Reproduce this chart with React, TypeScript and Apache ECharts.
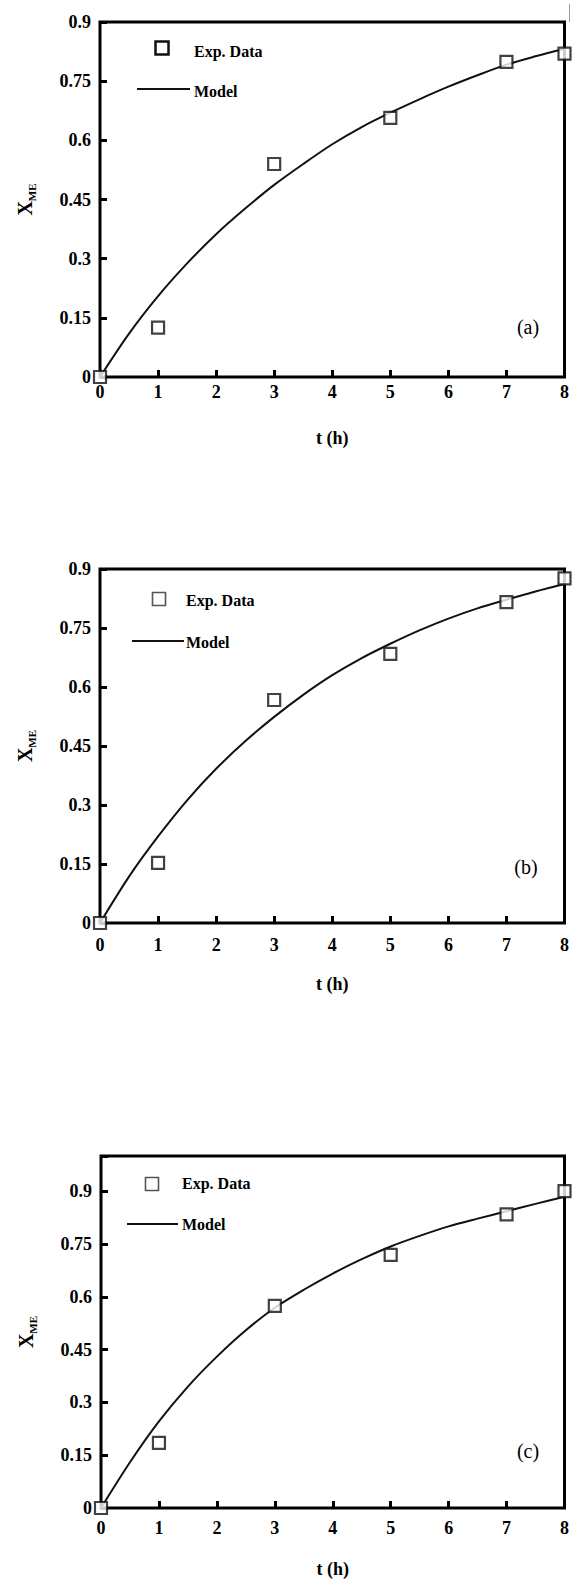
import React, { useEffect, useRef } from "react";
import * as echarts from "echarts";

const FONT = "Liberation Serif, serif";

// ---- data ----
const expTimes = [0, 1, 3, 5, 7, 8];
const expA = [0, 0.125, 0.54, 0.657, 0.799, 0.82];
const expB = [0, 0.153, 0.567, 0.684, 0.816, 0.876];
const expC = [0, 0.185, 0.574, 0.719, 0.834, 0.9];

const modelTimes = [0, 0.5, 1, 1.5, 2, 2.5, 3, 3.5, 4, 4.5, 5, 5.5, 6, 6.5, 7, 7.5, 8];
const modelA = [0, 0.11, 0.205, 0.288, 0.362, 0.427, 0.487, 0.54, 0.59, 0.633, 0.67, 0.704, 0.736, 0.765, 0.792, 0.813, 0.832];
const modelB = [0, 0.118, 0.22, 0.312, 0.392, 0.462, 0.524, 0.58, 0.63, 0.673, 0.71, 0.744, 0.774, 0.8, 0.822, 0.843, 0.862];
const modelC = [0, 0.13, 0.246, 0.345, 0.43, 0.505, 0.569, 0.62, 0.666, 0.707, 0.743, 0.773, 0.8, 0.822, 0.843, 0.864, 0.884];

const xTickLabels = ["0", "1", "2", "3", "4", "5", "6", "7", "8"];
const yTickLabels = ["0", "0.15", "0.3", "0.45", "0.6", "0.75", "0.9"];
const panelLabels = ["(a)", "(b)", "(c)"];
const yMaxes = [0.9, 0.9, 1.0];

const legendExp = "Exp. Data";
const legendModel = "Model";
const xName = "t (h)";

// ---- layout ----
const grids = [
  { left: 100, top: 22, width: 468, height: 355 },
  { left: 100, top: 569, width: 469, height: 354 },
  { left: 101, top: 1156, width: 469, height: 355 },
];
const xLabelMargins = [6, 13, 11];
const legendPos = [
  { sx: 162, sy: 48, tx: 194, ty: 51, lx1: 137, lx2: 190, ly: 89, my: 91, sqStroke: "#111", sqW: 2.5 },
  { sx: 159, sy: 599, tx: 186, ty: 600, lx1: 132, lx2: 184, ly: 641, my: 642, sqStroke: "#555", sqW: 1.6 },
  { sx: 152, sy: 1184, tx: 182, ty: 1183, lx1: 127, lx2: 178, ly: 1224, my: 1224, sqStroke: "#555", sqW: 1.6 },
];
const panelLabelPos = [
  { x: 528, y: 327 },
  { x: 526, y: 867 },
  { x: 528, y: 1451 },
];

const expSets = [expA, expB, expC];
const modelSets = [modelA, modelB, modelC];

function buildOption() {
  const grid: any[] = [];
  const xAxis: any[] = [];
  const yAxis: any[] = [];
  const series: any[] = [];
  const graphic: any[] = [];

  for (let i = 0; i < 3; i++) {
    const g = grids[i];
    grid.push({
      left: g.left,
      top: g.top,
      width: g.width,
      height: g.height,
      show: true,
      borderColor: "#000",
      borderWidth: 3,
      backgroundColor: "transparent",
    });
    xAxis.push({
      type: "value",
      gridIndex: i,
      min: 0,
      max: 8,
      interval: 1,
      name: xName,
      nameLocation: "middle",
      nameGap: 52,
      nameTextStyle: { fontFamily: FONT, fontWeight: "bold", fontSize: 18, color: "#000" },
      axisLine: { show: false },
      axisTick: { show: true, inside: true, length: 7, lineStyle: { color: "#000", width: 3 } },
      axisLabel: {
        fontFamily: FONT,
        fontWeight: "bold",
        fontSize: 18,
        color: "#000",
        margin: xLabelMargins[i],
        formatter: (v: number) => {
          const k = Math.round(v);
          return Math.abs(v - k) < 1e-6 && k >= 0 && k < xTickLabels.length ? xTickLabels[k] : "";
        },
      },
      splitLine: { show: false },
    });
    yAxis.push({
      type: "value",
      gridIndex: i,
      min: 0,
      max: yMaxes[i],
      interval: 0.15,
      name: "{b|X}{s|ME}",
      nameLocation: "middle",
      nameRotate: 90,
      nameGap: 65,
      nameTextStyle: {
        rich: {
          b: { fontFamily: FONT, fontWeight: "bold", fontSize: 20, color: "#000" },
          s: { fontFamily: FONT, fontWeight: "bold", fontSize: 11, color: "#000", verticalAlign: "bottom", padding: [0, 0, -2, 0] },
        },
      },
      axisLine: { show: false },
      axisTick: { show: true, inside: true, length: 7, lineStyle: { color: "#000", width: 3 } },
      axisLabel: {
        fontFamily: FONT,
        fontWeight: "bold",
        fontSize: 18,
        color: "#000",
        margin: 9,
        formatter: (v: number) => {
          const k = Math.round(v / 0.15);
          if (Math.abs(v - k * 0.15) > 1e-6 || k < 0 || k >= yTickLabels.length) return "";
          return yTickLabels[k];
        },
      },
      splitLine: { show: false },
    });

    series.push({
      type: "line",
      xAxisIndex: i,
      yAxisIndex: i,
      data: modelTimes.map((t, j) => [t, modelSets[i][j]]),
      showSymbol: false,
      symbol: "none",
      smooth: 0.3,
      lineStyle: { color: "#111", width: 2 },
      z: 2,
      silent: true,
    });
    series.push({
      type: "scatter",
      xAxisIndex: i,
      yAxisIndex: i,
      data: expTimes.map((t, j) => [t, expSets[i][j]]),
      symbol: "rect",
      symbolSize: 12,
      clip: false,
      itemStyle: { color: "#fff", borderColor: "#111", borderWidth: 2.2 },
      z: 3,
      silent: true,
    });

    const L = legendPos[i];
    graphic.push({
      type: "rect",
      shape: { x: L.sx - 6.5, y: L.sy - 6.5, width: 13, height: 13 },
      style: { fill: "#fff", stroke: L.sqStroke, lineWidth: L.sqW },
      z: 10,
    });
    graphic.push({
      type: "text",
      x: L.tx,
      y: L.ty,
      style: { text: legendExp, fontFamily: FONT, fontWeight: "bold", fontSize: 16, fill: "#000", textAlign: "left", textVerticalAlign: "middle" },
      z: 10,
    });
    graphic.push({
      type: "line",
      shape: { x1: L.lx1, y1: L.ly, x2: L.lx2, y2: L.ly },
      style: { stroke: "#111", lineWidth: 2 },
      z: 10,
    });
    graphic.push({
      type: "text",
      x: L.tx,
      y: L.my,
      style: { text: legendModel, fontFamily: FONT, fontWeight: "bold", fontSize: 16, fill: "#000", textAlign: "left", textVerticalAlign: "middle" },
      z: 10,
    });
    const P = panelLabelPos[i];
    graphic.push({
      type: "text",
      x: P.x,
      y: P.y,
      style: { text: panelLabels[i], fontFamily: FONT, fontSize: 20, fill: "#000", textAlign: "center", textVerticalAlign: "middle" },
      z: 10,
    });
  }

  graphic.push({
    type: "line",
    shape: { x1: 569.5, y1: 4, x2: 569.5, y2: 22 },
    style: { stroke: "#999", lineWidth: 1 },
  });

  return {
    animation: false,
    backgroundColor: "#fff",
    textStyle: { fontFamily: FONT },
    grid,
    xAxis,
    yAxis,
    series,
    graphic,
  };
}

export default function App() {
  const ref = useRef<HTMLDivElement>(null);
  useEffect(() => {
    document.body.style.margin = "0";
    if (!ref.current) return;
    const chart = echarts.init(ref.current, undefined, { renderer: "svg" });
    chart.setOption(buildOption() as any);
    return () => {
      chart.dispose();
    };
  }, []);
  return <div ref={ref} style={{ width: 572, height: 1579 }} />;
}
